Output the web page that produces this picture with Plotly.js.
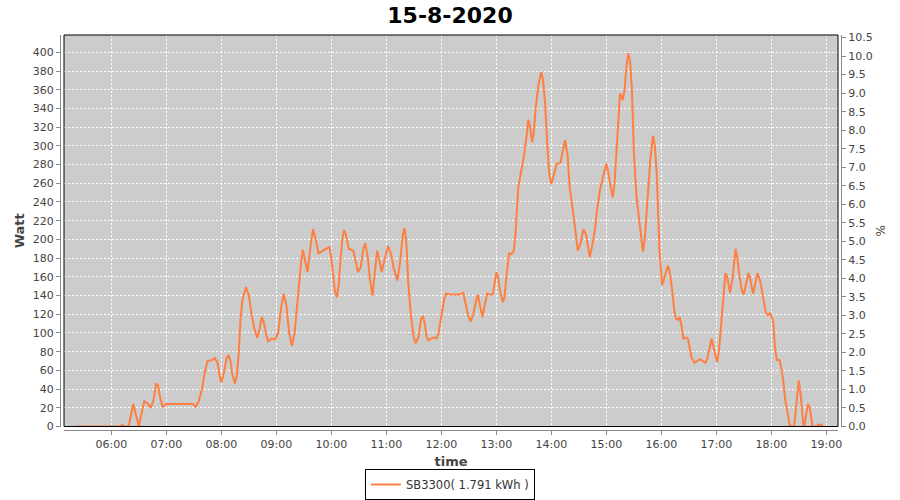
<!DOCTYPE html>
<html>
<head>
<meta charset="utf-8">
<script src="https://cdn.plot.ly/plotly-3.0.1.min.js"></script>
<style>html,body{margin:0;padding:0;background:#fff;}#chart{width:900px;height:500px;}</style>
</head>
<body>
<div id="chart"></div>
<script>
// ---- data ----
const chartTitle = "15-8-2020";
const dayDate = "2020-08-15";
const seriesName = "SB3300( 1.791 kWh )";
const times = [
"05:22","06:10","06:12","06:14","06:19","06:24","06:27","06:30","06:33","06:36","06:40","06:43","06:46","06:49","06:51","06:53","06:56",
"07:00","07:10","07:20","07:29","07:32","07:35","07:39","07:42","07:45","07:48","07:50","07:53","07:56","07:58",
"08:00","08:03","08:06","08:08","08:10","08:12","08:15","08:17","08:19","08:21","08:23","08:27","08:30","08:33","08:36","08:39","08:42","08:44","08:46","08:49","08:51","08:55","08:59",
"09:02","09:05","09:08","09:11","09:14","09:17","09:20","09:23","09:25","09:27","09:29","09:32","09:34","09:37","09:40","09:43","09:46","09:51","09:55","09:58",
"10:00","10:02","10:04","10:06","10:08","10:10","10:12","10:14","10:16","10:19","10:24","10:27","10:29","10:32","10:35","10:37","10:40","10:42","10:45","10:47","10:50","10:52","10:55","10:58",
"11:02","11:05","11:08","11:12","11:15","11:18","11:20","11:22","11:24","11:27","11:30","11:32","11:35","11:38","11:40","11:42","11:44","11:46","11:49","11:52","11:55","11:57",
"12:00","12:03","12:05","12:10","12:15","12:20","12:24","12:26","12:29","12:32","12:35","12:38","12:40","12:42","12:45","12:47","12:50","12:53","12:56","12:58",
"13:00","13:02","13:04","13:07","13:09","13:11","13:14","13:16","13:19","13:21","13:24","13:27","13:30","13:33","13:35","13:37","13:39","13:41","13:43","13:46","13:49","13:51","13:53","13:56","13:58",
"14:00","14:03","14:06","14:10","14:13","14:15","14:18","14:20","14:23","14:25","14:27","14:29","14:32","14:35","14:38","14:40","14:42","14:45","14:48","14:50","14:53","14:56",
"15:00","15:02","15:04","15:07","15:09","15:11","15:13","15:15","15:17","15:18","15:20","15:22","15:24","15:26","15:28","15:30","15:33","15:35","15:37","15:40","15:42","15:45","15:48","15:51","15:53","15:55","15:58",
"16:01","16:04","16:07","16:08","16:10","16:12","16:14","16:16","16:18","16:20","16:22","16:24","16:27","16:29","16:31","16:33","16:36","16:39","16:42","16:45","16:48","16:50","16:53","16:55","16:58",
"17:01","17:03","17:06","17:08","17:10","17:12","17:15","17:18","17:21","17:23","17:25","17:28","17:30","17:32","17:35","17:37","17:40","17:42","17:45","17:48","17:51","17:54","17:56","17:59",
"18:02","18:04","18:06","18:09","18:11","18:13","18:15","18:17","18:20","18:22","18:25","18:27","18:29","18:30","18:32","18:33","18:35","18:36","18:38","18:40","18:42","18:44","18:45","18:50","18:51","18:55","18:56"
];
const watts = [
0,0,2,0,0,24,12,0,14,27,24,20,28,46,44,32,21,
24,24,24,24,21,26,40,58,70,71,71,73,68,55,
47,58,74,76,70,56,46,55,78,115,135,149,140,120,105,95,105,117,113,98,91,94,93,
100,125,142,130,100,86,100,135,150,175,189,175,165,190,211,200,185,188,190,192,
180,163,145,138,150,178,200,210,205,190,188,175,165,170,190,196,180,158,140,160,188,180,165,178,
193,185,170,156,175,205,212,195,153,117,95,89,95,115,118,110,95,92,94,95,94,100,
120,135,142,141,141,141,143,135,120,112,120,135,141,130,117,128,142,141,141,152,
165,160,145,133,138,160,185,184,187,206,256,272,288,310,328,320,304,315,341,365,379,370,349,295,268,
259,270,281,282,295,306,288,256,235,217,200,188,196,211,205,190,181,195,213,232,252,265,
281,272,260,245,260,295,330,356,352,349,360,385,399,390,360,295,245,230,213,187,200,245,285,311,300,270,190,
151,160,171,170,160,145,125,115,114,117,108,94,95,94,85,74,68,70,72,70,68,72,85,94,80,
69,82,117,145,164,160,143,160,190,180,163,145,141,150,164,158,142,150,164,155,138,122,119,121,
113,85,71,71,62,49,30,17,2,0,0,20,42,49,35,21,2,0,15,24,20,8,0,0,2,2,0
];
const xTickFormat = "%H:%M";
const wattRange = [0, 418.5];
const pctRange = [0, 10.57];

// ---- chart ----
const xs = times.map(t => dayDate + " " + t + ":00");
const FONT = "DejaVu Sans";
const paperL = 60, paperR = 841, plotL = 64, plotR = 838, paperT = 35, paperB = 430, plotB = 426.5;
const pw = paperR - paperL, ph = paperB - paperT;

const trace = {
  x: xs, y: watts, type: "scatter", mode: "lines", name: seriesName,
  line: {color: "#ff7f40", width: 2}, hoverinfo: "skip"
};
// empty trace so the right-hand percent axis is drawn
const pctAxisTrace = {
  x: [], y: [], type: "scatter", mode: "lines", yaxis: "y2",
  showlegend: false, hoverinfo: "skip"
};

const axisCommon = {
  showline: true, linecolor: "#888888", linewidth: 1,
  ticks: "outside", ticklen: 4, tickcolor: "#888888", tickwidth: 1,
  tickfont: {family: FONT, size: 11, color: "#444444"},
  zeroline: false, fixedrange: true
};

const layout = {
  width: 900, height: 500,
  margin: {l: paperL, r: 900 - paperR, t: paperT, b: 500 - paperB, pad: 0, autoexpand: false},
  paper_bgcolor: "#ffffff", plot_bgcolor: "#cccccc",
  showlegend: true,
  title: {text: "<b>" + chartTitle + "</b>", font: {family: FONT, size: 22, color: "#000000"},
          x: 0.5, xanchor: "center", y: 1 - 15/500, yanchor: "middle"},
  xaxis: Object.assign({}, axisCommon, {
    type: "date", domain: [(plotL - paperL)/pw, (plotR - paperL)/pw],
    anchor: "free", position: 0,
    range: [dayDate + " 05:08:24", dayDate + " 19:12:48"],
    dtick: 3600000, tick0: dayDate + " 00:00:00", tickformat: xTickFormat,
    showgrid: true, gridcolor: "#ffffff", gridwidth: 1, griddash: "2px,2px",
    title: {text: "<b>time</b>", font: {family: FONT, size: 13, color: "#444444"}, standoff: 6},
    automargin: false
  }),
  yaxis: Object.assign({}, axisCommon, {
    domain: [(paperB - plotB)/ph, 1], anchor: "free", position: 0,
    range: wattRange, tick0: 0, dtick: 20,
    showgrid: true, gridcolor: "#ffffff", gridwidth: 1, griddash: "2px,2px",
    title: {text: "<b>Watt</b>", font: {family: FONT, size: 13, color: "#444444"}, standoff: 4},
    automargin: false
  }),
  yaxis2: Object.assign({}, axisCommon, {
    domain: [(paperB - plotB)/ph, 1], anchor: "free", position: 1,
    overlaying: "y", side: "right",
    range: pctRange, tick0: 0, dtick: 0.5, tickformat: ".1f",
    showgrid: false,
    title: {text: "%", font: {family: FONT, size: 12, color: "#444444"}, standoff: 4},
    automargin: false
  }),
  legend: {
    orientation: "h", x: 0.5, xref: "container", xanchor: "center",
    y: 1 - 500/500, yref: "container", yanchor: "bottom",
    bordercolor: "#000000", borderwidth: 1, bgcolor: "#ffffff",
    font: {family: FONT, size: 11.5, color: "#333333"}, itemwidth: 30
  },
  shapes: [{
    type: "rect", xref: "x domain", yref: "y domain", x0: 0, x1: 1, y0: 0, y1: 1,
    line: {color: "#000000", width: 1}, layer: "above"
  }]
};

Plotly.newPlot("chart", [trace, pctAxisTrace], layout, {staticPlot: true, displayModeBar: false});
</script>
</body>
</html>
